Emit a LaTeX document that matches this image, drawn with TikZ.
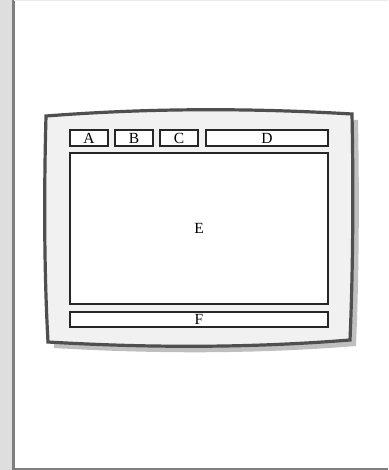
\documentclass[tikz,border=0pt]{standalone}
\usepackage{fontspec}
\setmainfont{Liberation Serif}
\usepackage{tikz}
\usetikzlibrary{positioning}

\definecolor{stripgray}{HTML}{DEDEDE}
\definecolor{edgegray}{HTML}{7F7F7F}
\definecolor{framegray}{HTML}{4F4F4F}
\definecolor{facegray}{HTML}{F1F1F1}
\definecolor{shadowgray}{HTML}{BFBFBF}

\begin{document}
\begin{tikzpicture}[
    x=1pt, y=-1pt,
    font=\fontsize{15.5}{17}\selectfont,
    panel/.style={draw=black!85, line width=1.1pt, fill=white, inner sep=0pt, minimum height=16pt},
    tab/.style={panel, minimum width=38pt},
]
\useasboundingbox (0,0) rectangle (388,470);

% Page edges
\fill[stripgray] (0,0) rectangle (12,470);
\draw[edgegray, line width=2.2pt] (13.5,0) -- (13.5,470);
\draw[edgegray, line width=1.6pt] (12,469.2) -- (388,469.2);
\draw[black!8, line width=0.8pt] (14,0.4) -- (388,0.4);

% Shadow of the frame
\fill[shadowgray, shift={(6,6)}] (46,116) .. controls (150,108) and (250,108) .. (352,114)
    .. controls (353.5,190) and (353,270) .. (350,340)
    .. controls (250,348) and (150,348) .. (48,342)
    .. controls (44,270) and (44,190) .. (46,116) -- cycle;

% Frame
\draw[framegray, fill=facegray, line width=3.2pt, line join=miter]
    (46,116) .. controls (150,108) and (250,108) .. (352,114)
    .. controls (353.5,190) and (353,270) .. (350,340)
    .. controls (250,348) and (150,348) .. (48,342)
    .. controls (44,270) and (44,190) .. (46,116) -- cycle;

% Top row
\node[tab] (a) at (89,138) {A};
\node[tab] (b) at (134,138) {B};
\node[tab] (c) at (179,138) {C};
\node[panel, minimum width=122pt] (d) at (267,138) {D};

% Main area and bottom bar
\node[panel, minimum width=258pt, minimum height=151pt] (e) at (199,228.5) {E};
\node[panel, minimum width=258pt, minimum height=15pt] (f) at (199,319.5) {F};

\end{tikzpicture}
\end{document}
